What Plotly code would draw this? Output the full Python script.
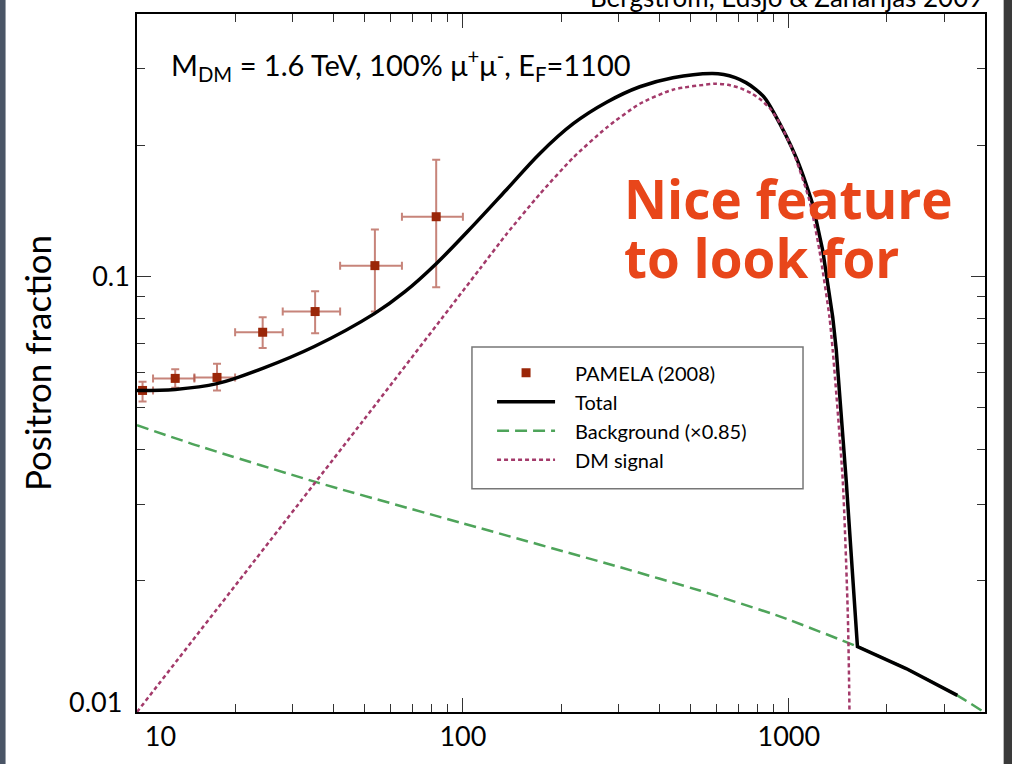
import plotly.graph_objects as go

# PAMELA (2008) positron fraction with bin edges and errors
pamela_e = [10.4, 13.1, 17.6, 24.3, 35.2, 53.7, 82.8]
pamela_e_lo = [9.0, 11.2, 15.0, 20.0, 28.0, 42.0, 65.0]
pamela_e_hi = [11.2, 15.0, 20.0, 28.0, 42.0, 65.0, 100.0]
pamela_f = [0.0547, 0.0583, 0.0586, 0.0744, 0.0830, 0.1058, 0.1370]
pamela_f_lo = [0.0516, 0.0555, 0.0547, 0.0685, 0.0740, 0.0830, 0.0944]
pamela_f_hi = [0.0573, 0.0612, 0.0630, 0.0805, 0.0924, 0.1280, 0.1852]

# Total = background + DM signal
total_e = [10, 13.1, 17.6, 24.2, 35.0, 53.5, 66.4, 82.5, 107.5, 136, 172, 218,
           276, 349, 441, 580, 631, 685, 739, 793, 842, 894, 1054, 1185, 1271,
           1364, 1398, 1500, 1624, 2290, 3289]
total_f = [0.0547, 0.0550, 0.0567, 0.0614, 0.0690, 0.0821, 0.0922, 0.1066,
           0.1307, 0.1580, 0.1912, 0.2240, 0.2509, 0.2723, 0.2856, 0.2921,
           0.2906, 0.2858, 0.2783, 0.2683, 0.2572, 0.2394, 0.1872, 0.1460,
           0.1145, 0.0805, 0.0679, 0.0340, 0.01413, 0.01258, 0.01092]
# the smooth bump ends here; past it the curve falls through a sharp knee
KNEE_E = 1185

# Secondary background (scaled by 0.85)
bg_e = [10, 15.6, 35.9, 100, 303, 533, 937, 1624, 2290, 3289, 3980]
bg_f = [0.0455, 0.0407, 0.0336, 0.0271, 0.0215, 0.0190, 0.01658, 0.01413,
        0.01258, 0.01092, 0.00998]

# Dark matter signal, M_DM = 1.6 TeV
dm_e = [10, 49.5, 112.7, 136, 172, 218, 276, 349, 441, 596, 651, 709, 769,
        826, 880, 938, 1029, 1157, 1242, 1333, 1364, 1464, 1517, 1535, 1540]
dm_f = [0.0100, 0.0467, 0.1040, 0.1249, 0.1543, 0.1872, 0.2194, 0.2489,
        0.2681, 0.2767, 0.2751, 0.2704, 0.2630, 0.2531, 0.2418, 0.2248,
        0.1942, 0.1491, 0.1145, 0.0805, 0.0676, 0.0340, 0.0168, 0.0100,
        0.0010]

x_ticks = [10, 100, 1000]
x_ticktext = ["\u2007\u2007\u200710", "100", "1000"]
x_minor = [20, 30, 40, 50, 60, 70, 80, 90, 200, 300, 400, 500, 600, 700, 800,
           900, 2000, 3000]
y_ticks = [0.01, 0.1]
y_ticktext = ["", "0.1"]
y_minor = [0.02, 0.03, 0.04, 0.05, 0.06, 0.07, 0.08, 0.09, 0.2, 0.3]

FONT = "Lato"
ERR = "rgba(175,80,65,0.7)"
LEAD = "\u2003"  # gap between legend sample and its label

fig = go.Figure()

fig.add_trace(go.Scatter(
    x=pamela_e, y=pamela_f, mode="markers", name=LEAD + "PAMELA (2008)",
    legendrank=1,
    marker=dict(symbol="square", size=9, color="#9a2608"),
    error_x=dict(type="data", symmetric=False,
                 array=[h - e for h, e in zip(pamela_e_hi, pamela_e)],
                 arrayminus=[e - l for e, l in zip(pamela_e, pamela_e_lo)],
                 color=ERR, thickness=2, width=4),
    error_y=dict(type="data", symmetric=False,
                 array=[h - f for h, f in zip(pamela_f_hi, pamela_f)],
                 arrayminus=[f - l for f, l in zip(pamela_f, pamela_f_lo)],
                 color=ERR, thickness=2, width=4),
))

fig.add_trace(go.Scatter(
    x=bg_e, y=bg_f, mode="lines", name=LEAD + "Background (×0.85)",
    legendrank=3,
    line=dict(color="#4ea45a", width=2.5, dash="12px,6px", shape="spline",
              smoothing=0.5),
))

k = total_e.index(KNEE_E)
fig.add_trace(go.Scatter(
    x=total_e[:k + 1], y=total_f[:k + 1], mode="lines", name=LEAD + "Total",
    legendrank=2, legendgroup="total",
    line=dict(color="black", width=3.5, shape="spline", smoothing=1.0),
))
fig.add_trace(go.Scatter(
    x=total_e[k:], y=total_f[k:], mode="lines", name="Total",
    legendgroup="total", showlegend=False,
    line=dict(color="black", width=3.5),
))

fig.add_trace(go.Scatter(
    x=dm_e, y=dm_f, mode="lines", name=LEAD + "DM signal", legendrank=4,
    line=dict(color="#a33a6a", width=2.5, dash="4px,3px", shape="spline",
              smoothing=0.6),
))

axis_common = dict(
    type="log", showline=True, linecolor="black", linewidth=1.5,
    mirror="ticks", ticks="inside", ticklen=14, tickwidth=1.2,
    tickcolor="#333", showgrid=False, zeroline=False,
    tickfont=dict(family=FONT, size=27, color="black"),
)

fig.update_xaxes(
    **axis_common, range=[1, 3.602], tickvals=x_ticks, ticktext=x_ticktext,
    minor=dict(tickvals=x_minor, ticks="inside", ticklen=8, tickwidth=1.2,
               tickcolor="#333", showgrid=False),
)
fig.update_yaxes(
    **axis_common, range=[-2, -0.398], tickvals=y_ticks, ticktext=y_ticktext,
    minor=dict(tickvals=y_minor, ticks="inside", ticklen=8, tickwidth=1.2,
               tickcolor="#333", showgrid=False),
    title=dict(text="Positron fraction", font=dict(family=FONT, size=35,
                                                   color="black"),
               standoff=30),
)

# lowest y label sits just above its tick
fig.add_annotation(
    xref="paper", yref="y", x=0, y=-2, xanchor="right", yanchor="middle",
    xshift=-13, yshift=11, showarrow=False, text="0.01",
    font=dict(family=FONT, size=27, color="black"),
)
fig.add_annotation(
    xref="paper", yref="paper", x=0.038, y=0.927, xanchor="left",
    yanchor="middle", showarrow=False,
    text="M<sub>DM</sub> = 1.6 TeV, 100% μ<sup>+</sup>μ<sup>-</sup>, "
         "E<sub>F</sub>=1100",
    font=dict(family=FONT, size=29, color="black"),
)
for line, ypos in (("Nice feature", 0.736), ("to look for", 0.651)):
    fig.add_annotation(
        xref="paper", yref="paper", x=0.572, y=ypos, xanchor="left",
        yanchor="middle", showarrow=False,
        text="<b>" + line + "</b>",
        font=dict(family="Open Sans", size=53, color="#e8461a"),
    )
fig.add_annotation(
    xref="paper", yref="paper", x=1.0, y=1.0, xanchor="right",
    yanchor="bottom", yshift=-1, showarrow=False,
    text="Bergström, Edsjö & Zaharijas 2009",
    font=dict(family=FONT, size=26, color="black"),
)

fig.update_layout(
    width=1012, height=764,
    margin=dict(l=137, r=27, t=12, b=52),
    paper_bgcolor="white", plot_bgcolor="white",
    showlegend=True,
    legend=dict(
        x=0.4187, y=0.514, xanchor="left", yanchor="top",
        bgcolor="rgba(0,0,0,0)", borderwidth=0,
        font=dict(family=FONT, size=20, color="black"),
        itemwidth=58, tracegroupgap=0,
    ),
    shapes=[
        # legend frame
        dict(type="rect", xref="paper", yref="paper", x0=0.395, x1=0.7854,
             y0=0.32, y1=0.5229, fillcolor="white", layer="below",
             line=dict(color="#777", width=1.5)),
        # slide edges
        dict(type="rect", xref="paper", yref="paper", x0=-0.162, x1=-0.155,
             y0=-0.1, y1=1.1, fillcolor="#4a5566", line=dict(width=0)),
        dict(type="rect", xref="paper", yref="paper", x0=1.022, x1=1.04,
             y0=-0.1, y1=1.1, fillcolor="#3a3a3a", line=dict(width=0)),
    ],
)

fig.write_html("out.html")
